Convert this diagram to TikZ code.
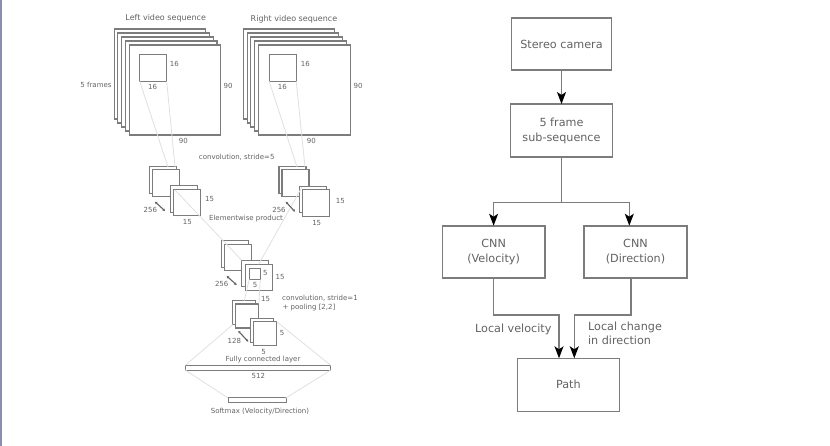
\documentclass[tikz,border=0pt]{standalone}
\usepackage{fontspec}
\setmainfont{DejaVu Sans}
\usetikzlibrary{arrows.meta}
\definecolor{boxgray}{HTML}{7C7C7C}
\definecolor{textgray}{HTML}{626262}
\definecolor{fadegray}{HTML}{E0E0E0}
\definecolor{edgeblue}{HTML}{8C8CB0}
\tikzset{
    frame/.style={draw=boxgray, line width=1.1pt, fill=white, inner sep=0pt, outer sep=0pt, minimum width=91.5pt, minimum height=90pt},
    patch/.style={draw=boxgray, line width=1.1pt, fill=white, inner sep=0pt, outer sep=0pt, minimum width=27pt, minimum height=26.5pt},
    inner/.style={draw=boxgray, line width=0.9pt, fill=white, inner sep=0pt, outer sep=0pt, minimum size=11pt},
    bar/.style={draw=boxgray, line width=1pt, fill=white, inner sep=0pt, outer sep=0pt},
    lbl/.style={font=\fontsize{7}{8.4}\selectfont, text=textgray, inner sep=0pt},
    title/.style={font=\fontsize{8}{9.6}\selectfont, text=textgray, inner sep=0pt},
    fade/.style={draw=fadegray, line width=0.8pt},
    depth/.style={draw=textgray, line width=1.1pt, {Stealth[length=2.5pt,width=2.8pt]}-{Stealth[length=2.5pt,width=2.8pt]}},
    block/.style={draw=boxgray, line width=1.6pt, fill=white, align=center, inner sep=0pt, outer sep=0pt, text=textgray, font=\fontsize{11.2}{15}\selectfont},
    flow/.style={draw=boxgray, line width=1.3pt, -{Stealth[length=12pt,width=9pt,inset=3pt,color=black]}},
    note/.style={font=\fontsize{11.2}{14}\selectfont, text=textgray, inner sep=0pt, align=left},
}
\begin{document}
\begin{tikzpicture}[x=1pt,y=-1pt]
    \useasboundingbox (0,0) rectangle (830,446);
    \fill[edgeblue] (0,0) rectangle (1.5,446);

    % left video sequence
    \node[frame] (lf1) at (159.8,74) {};
    \node[frame] (lf2) at (163.6,78) {};
    \node[frame] (lf3) at (167.4,82) {};
    \node[frame] (lf4) at (171.2,86) {};
    \node[frame] (lf5) at (175,90) {};
    \node[patch] (lpatch) at (153.2,68) {};
    % right video sequence
    \node[frame] (rf1) at (289,74) {};
    \node[frame] (rf2) at (292.8,78) {};
    \node[frame] (rf3) at (296.6,82) {};
    \node[frame] (rf4) at (300.4,86) {};
    \node[frame] (rf5) at (304.5,90) {};
    \node[patch] (rpatch) at (282.7,68) {};

    % convolution maps, left
    \node[patch] (la1) at (162.7,180) {};
    \node[patch] (la2) at (165.7,183) {};
    \node[patch] (lb1) at (184.2,199) {};
    \node[patch] (lb2) at (187.2,202.7) {};
    % convolution maps, right
    \node[patch] (ra1) at (292.5,180) {};
    \node[patch] (ra2) at (295.5,183) {};
    \node[patch] (rb1) at (313.3,199.5) {};
    \node[patch] (rb2) at (316.3,203) {};
    % elementwise product
    \node[patch] (ca1) at (235,254) {};
    \node[patch] (ca2) at (237.7,257.5) {};
    \node[patch] (cb1) at (255.2,273.5) {};
    \node[patch] (cb2) at (258.7,277.5) {};
    \node[inner] (cwin) at (254.8,273.8) {};
    % pooling maps
    \node[patch, minimum width=23pt, minimum height=24pt] (pa1) at (244.2,312.7) {};
    \node[patch, minimum width=23pt, minimum height=24pt] (pa2) at (247.4,316) {};
    \node[patch, minimum width=23pt, minimum height=24pt] (pb1) at (262,330.3) {};
    \node[patch, minimum width=23pt, minimum height=24pt] (pb2) at (265.3,333.8) {};

    \node[bar, minimum width=145.5pt, minimum height=4.7pt] (fc) at (258,367.7) {};
    \node[bar, minimum width=58pt, minimum height=4.7pt] (soft) at (257,400.3) {};

    \coordinate (lcone1) at (168,167);
    \coordinate (lcone2) at (175,167);
    \coordinate (rcone1) at (297,167);
    \coordinate (rcone2) at (305,167);
    \coordinate (lprod) at (175,190);
    \coordinate (rprod) at (302,187);
    \draw[fade] (lpatch.south west) -- (lcone1);
    \draw[fade] (lpatch.south east) -- (lcone2);
    \draw[fade] (rpatch.south west) -- (rcone1);
    \draw[fade] (rpatch.south east) -- (rcone2);
    \draw[fade] (lprod) -- (cb1.north west);
    \draw[fade] (rprod) -- (cb2.north);
    \draw[fade] (cwin.south west) -- (pa1.north);
    \draw[fade] (cwin.south east) -- (pa2.north east);
    \draw[fade] (pa1.south west) -- (fc.north west);
    \draw[fade] (pb2.north east) -- (fc.north east);
    \draw[fade] (fc.south west) -- (soft.north west);
    \draw[fade] (fc.south east) -- (soft.north east);

    \coordinate (ld1) at (155,201.7);
    \coordinate (ld2) at (165,211);
    \coordinate (rd1) at (285.7,201.7);
    \coordinate (rd2) at (295,211.7);
    \coordinate (cd1) at (226.7,276);
    \coordinate (cd2) at (236.7,285);
    \coordinate (pd1) at (238.3,331);
    \coordinate (pd2) at (248.3,341.7);
    \draw[depth] (ld1) -- (ld2);
    \draw[depth] (rd1) -- (rd2);
    \draw[depth] (cd1) -- (cd2);
    \draw[depth] (pd1) -- (pd2);

    \node[title] (ltitle) at (165.7,18.3) {Left video sequence};
    \node[title] (rtitle) at (294,19) {Right video sequence};
    \node[lbl] (nframes) at (96,84.7) {5 frames};
    \node[lbl] (l16a) at (174.3,64.3) {16};
    \node[lbl] (l16b) at (152.7,87.3) {16};
    \node[lbl] (l90a) at (228,86) {90};
    \node[lbl] (l90b) at (183.3,141) {90};
    \node[lbl] (r16a) at (305.3,64.3) {16};
    \node[lbl] (r16b) at (282.3,87.3) {16};
    \node[lbl] (r90a) at (358,86) {90};
    \node[lbl] (r90b) at (311.3,141) {90};
    \node[lbl] (conv5) at (236.7,157.3) {convolution, stride=5};
    \node[lbl] (l15a) at (209.7,198.7) {15};
    \node[lbl] (l15b) at (187.3,222.3) {15};
    \node[lbl] (l256) at (150.3,209.7) {256};
    \node[lbl] (r15a) at (340.3,200.7) {15};
    \node[lbl] (r15b) at (316.7,223.3) {15};
    \node[lbl] (r256) at (279,209.7) {256};
    \node[lbl] (prod) at (246,219) {Elementwise product};
    \node[lbl] (c256) at (221.7,284.3) {256};
    \node[lbl] (c15a) at (280,277) {15};
    \node[lbl] (c5a) at (265.3,273) {5};
    \node[lbl] (c5b) at (255,285) {5};
    \node[lbl] (c15b) at (265.7,299.3) {15};
    \node[lbl] (conv1) at (320,298) {convolution, stride=1};
    \node[lbl] (pool) at (309,307.3) {+ pooling [2,2]};
    \node[lbl] (p5a) at (282,333.3) {5};
    \node[lbl] (p5b) at (263.7,351.7) {5};
    \node[lbl] (p128) at (234.3,341.3) {128};
    \node[lbl] (fclabel) at (263,359.3) {Fully connected layer};
    \node[lbl] (n512) at (258.3,376.3) {512};
    \node[lbl] (softlabel) at (260,411.7) {Softmax (Velocity/Direction)};

    % flow chart
    \node[block, minimum width=100pt, minimum height=52pt] (stereo) at (561.5,44) {Stereo camera};
    \node[block, minimum width=102pt, minimum height=53pt] (frames) at (561.5,130.5) {5 frame\\sub-sequence};
    \node[block, minimum width=102.5pt, minimum height=52.5pt] (cnnv) at (493.6,252) {CNN\\(Velocity)};
    \node[block, minimum width=102.5pt, minimum height=52.5pt] (cnnd) at (635.5,252) {CNN\\(Direction)};
    \node[block, minimum width=102pt, minimum height=53pt] (path) at (568.3,384.8) {Path};
    \node[note] (vlabel) at (513.3,329) {Local velocity};
    \node[note] (dlabel) at (625,333.3) {Local change\\in direction};

    \coordinate (fork) at (561.5,202.7);
    \coordinate (dirin) at (629.3,225.7);
    \coordinate (dirout) at (631,278.3);
    \coordinate (velknee) at (559,315);
    \coordinate (dirknee) at (574.3,315);
    \coordinate (pathl) at (559,358.3);
    \coordinate (pathr) at (574.3,358.3);
    \draw[flow] (stereo.south) -- (frames.north);
    \draw[draw=boxgray, line width=1.3pt] (frames.south) -- (fork);
    \draw[flow] (fork) -| (cnnv.north);
    \draw[flow] (fork) -| (dirin);
    \draw[flow] (cnnv.south) |- (velknee) -- (pathl);
    \draw[flow] (dirout) |- (dirknee) -- (pathr);
\end{tikzpicture}
\end{document}
